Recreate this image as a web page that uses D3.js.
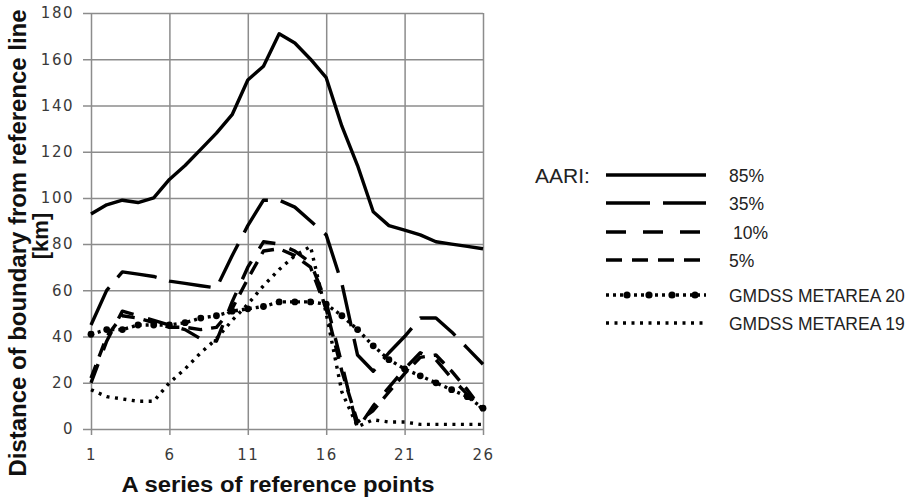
<!DOCTYPE html>
<html>
<head>
<meta charset="utf-8">
<script src="https://cdn.jsdelivr.net/npm/d3@7"></script>
<style>
  body { margin: 0; background: #fff; }
  svg { display: block; }
</style>
</head>
<body>
<svg id="canvas" width="917" height="499"></svg>
<script>
// reference point numbers
let points = d3.range(1, 27)

// distance of boundary from reference line [km]
let aari85 = [93, 97, 99, 98, 100, 108, 114, 121, 128, 136, 151, 157, 171, 167, 160, 152, 131, 114, 94, 88, 86, 84, 81, 80, 79, 78]
let aari35 = [45, 60, 68, 67, 66, 64, 63, 62, 61, 75, 88, 99, 99, 96, 90, 84, 63, 32, 25, 33, 40, 48, 48, 42, 35, 28]
let aari10 = [20, 38, 51, 49, 47, 45, 43, 39, 38, 55, 70, 81, 80, 77, 72, 55, 28, 0, 10, 18, 26, 33, 30, 22, 15, 9]
let aari5 = [22, 40, 49, 48, 46, 44, 44, 43, 44, 52, 65, 77, 78, 75, 70, 52, 25, 3, 8, 16, 24, 31, 32, 25, 17, 8]
let metarea20 = [41, 43, 43, 45, 45, 45, 46, 48, 49, 51, 52, 53, 55, 55, 55, 54, 49, 43, 36, 30, 26, 23, 20, 17, 14, 9]
let metarea19 = [17, 14, 13, 12, 12, 20, 26, 33, 39, 47, 54, 62, 69, 75, 79, 50, 16, 1, 4, 3, 3, 2, 2, 2, 2, 2]

let xTicks = [1, 6, 11, 16, 21, 26]
let yTicks = [0, 20, 40, 60, 80, 100, 120, 140, 160, 180]

let seriesNames = ["85%", "35%", "10%", "5%", "GMDSS METAREA 20", "GMDSS METAREA 19"]

let series = [
    {name: seriesNames[0], values: aari85, dash: null},
    {name: seriesNames[1], values: aari35, dash: "42,13"},
    {name: seriesNames[2], values: aari10, dash: "20,15"},
    {name: seriesNames[3], values: aari5, dash: "14,9"},
    {name: seriesNames[4], values: metarea20, dash: "3,4", dots: true},
    {name: seriesNames[5], values: metarea19, dash: "3,5.5"}
]

let canvas = d3.select("#canvas")

let plotLeft = 91, plotRight = 483, plotTop = 13, plotBottom = 429

let x = d3.scaleLinear().domain([1, 26]).range([plotLeft, plotRight])
let y = d3.scaleLinear().domain([0, 180]).range([plotBottom, plotTop])

// grid (ticks poke out past the frame like in the original)
let gridY = canvas.append("g")
    .attr("transform", `translate(${plotLeft - 8},0)`)
    .call(d3.axisLeft(y).tickValues(yTicks).tickSize(-(plotRight - plotLeft + 8)).tickFormat(""))
gridY.select(".domain").remove()
gridY.selectAll("line").attr("stroke", "#8c8c8c").attr("stroke-width", 1.5)

let gridX = canvas.append("g")
    .attr("transform", `translate(0,${plotBottom + 6})`)
    .call(d3.axisBottom(x).tickValues(xTicks).tickSize(-(plotBottom - plotTop + 6)).tickFormat(""))
gridX.select(".domain").remove()
gridX.selectAll("line").attr("stroke", "#8c8c8c").attr("stroke-width", 1.5)

// tick labels
let yAxis = canvas.append("g")
    .attr("transform", `translate(${plotLeft},0)`)
    .call(d3.axisLeft(y).tickValues(yTicks).tickSize(0).tickPadding(17))
yAxis.select(".domain").remove()
yAxis.selectAll("text")
    .style("font-family", "'DejaVu Sans', sans-serif")
    .style("font-size", "15px")
    .style("letter-spacing", "1.5px")
    .attr("fill", "#3a3a3a")

let xAxis = canvas.append("g")
    .attr("transform", `translate(0,${plotBottom})`)
    .call(d3.axisBottom(x).tickValues(xTicks).tickSize(0).tickPadding(20))
xAxis.select(".domain").remove()
xAxis.selectAll("text")
    .style("font-family", "'DejaVu Sans', sans-serif")
    .style("font-size", "15px")
    .style("letter-spacing", "1.5px")
    .attr("fill", "#3a3a3a")

// axis titles
canvas.append("text")
    .attr("x", 278).attr("y", 492)
    .attr("text-anchor", "middle")
    .attr("textLength", 313).attr("lengthAdjust", "spacingAndGlyphs")
    .style("font-family", "'Liberation Sans', Arial, sans-serif")
    .style("font-weight", "bold")
    .style("font-size", "22px")
    .attr("fill", "#111")
    .text("A series of reference points")

canvas.append("text")
    .attr("transform", "translate(26,243) rotate(-90)")
    .attr("text-anchor", "middle")
    .attr("textLength", 467).attr("lengthAdjust", "spacingAndGlyphs")
    .style("font-family", "'Liberation Sans', Arial, sans-serif")
    .style("font-weight", "bold")
    .style("font-size", "23px")
    .attr("fill", "#111")
    .text("Distance of boundary from reference line")

canvas.append("text")
    .attr("transform", "translate(48,236) rotate(-90)")
    .attr("text-anchor", "middle")
    .style("font-family", "'Liberation Sans', Arial, sans-serif")
    .style("font-weight", "bold")
    .style("font-size", "22px")
    .attr("fill", "#111")
    .text("[km]")

// data lines
let line = d3.line()
    .x((d, i) => x(points[i]))
    .y((d) => y(d))

series.forEach((s) => {
    canvas.append("path")
        .datum(s.values)
        .attr("d", line)
        .attr("fill", "none")
        .attr("stroke", "#000")
        .attr("stroke-width", 3.4)
        .attr("stroke-linejoin", "round")
        .attr("stroke-dasharray", s.dash)
    if (s.dots) {
        canvas.append("g")
            .selectAll("circle")
            .data(s.values)
            .enter()
            .append("circle")
            .attr("cx", (d, i) => x(points[i]))
            .attr("cy", (d) => y(d))
            .attr("r", 3.4)
            .attr("fill", "#000")
    }
})

// legend
let legend = canvas.append("g").attr("id", "legend")
let rowY = [175, 203, 232, 260, 295, 323]

legend.append("text")
    .attr("x", 535).attr("y", 183)
    .style("font-family", "'Liberation Sans', Arial, sans-serif")
    .style("font-size", "21px")
    .attr("fill", "#222")
    .text("AARI:")

series.forEach((s, i) => {
    legend.append("line")
        .attr("x1", 606).attr("x2", 706)
        .attr("y1", rowY[i]).attr("y2", rowY[i])
        .attr("stroke", "#000")
        .attr("stroke-width", 3.4)
        .attr("stroke-dasharray", i == 1 ? "44,13" : i == 2 ? "20,17" : i == 3 ? "16,10" : s.dash)
    if (s.dots) {
        legend.selectAll(".ldot")
            .data([627, 649, 672, 695])
            .enter()
            .append("circle")
            .attr("cx", (d) => d)
            .attr("cy", rowY[i])
            .attr("r", 3.6)
            .attr("fill", "#000")
    }
    legend.append("text")
        .attr("x", i == 2 ? 733 : 729)
        .attr("y", rowY[i] + 7)
        .style("font-family", "'Liberation Sans', Arial, sans-serif")
        .style("font-size", "17.5px")
        .attr("fill", "#222")
        .text(s.name)
})
</script>
</body>
</html>
